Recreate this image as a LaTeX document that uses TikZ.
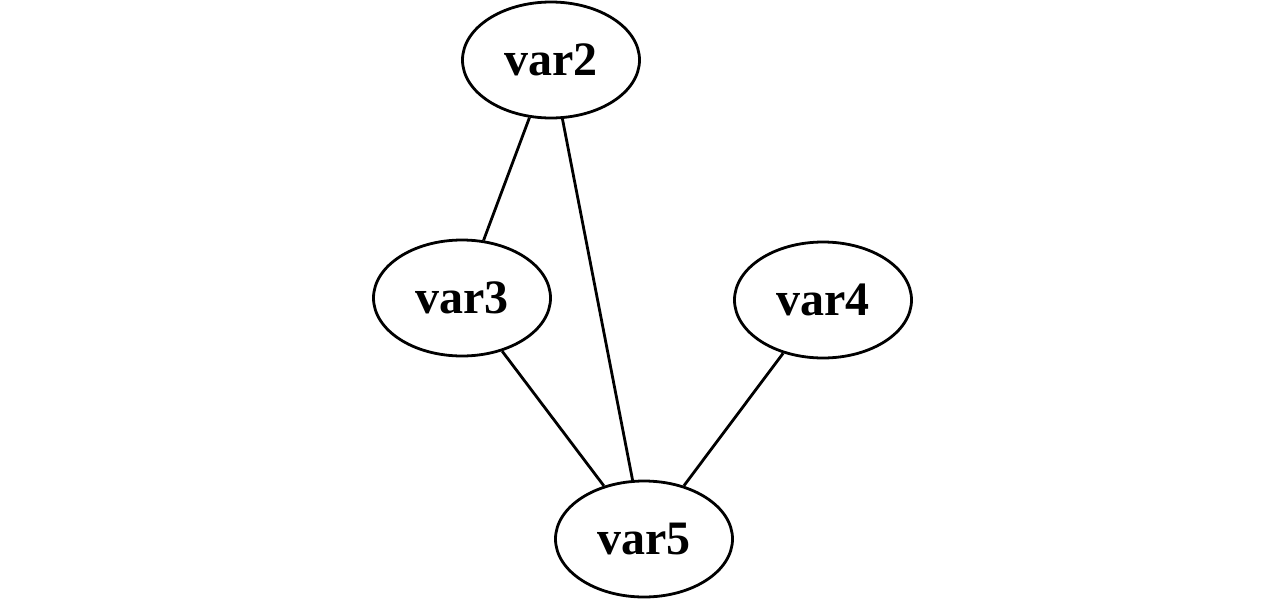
\documentclass[tikz,border=0pt]{standalone}
\usepackage{fontspec}
\setmainfont{Liberation Serif}
\usetikzlibrary{shapes.geometric}
\tikzset{
  var/.style={draw, ellipse, line width=1.4pt, minimum width=88.5pt, minimum height=58pt, inner sep=0pt, font=\bfseries\fontsize{24}{28}\selectfont},
  edge/.style={line width=1.4pt}
}
\begin{document}
\begin{tikzpicture}[x=0.5pt,y=-0.5pt]
\useasboundingbox (0,0) rectangle (1284,600);
\node[var] (v2) at (551,60) {var2};
\node[var] (v3) at (462,298) {var3};
\node[var] (v4) at (823,300) {var4};
\node[var] (v5) at (644,539) {var5};
\draw[edge] (v2) -- (v3);
\draw[edge] (v2) -- (v5);
\draw[edge] (v3) -- (v5);
\draw[edge] (v4) -- (v5);
\end{tikzpicture}
\end{document}
